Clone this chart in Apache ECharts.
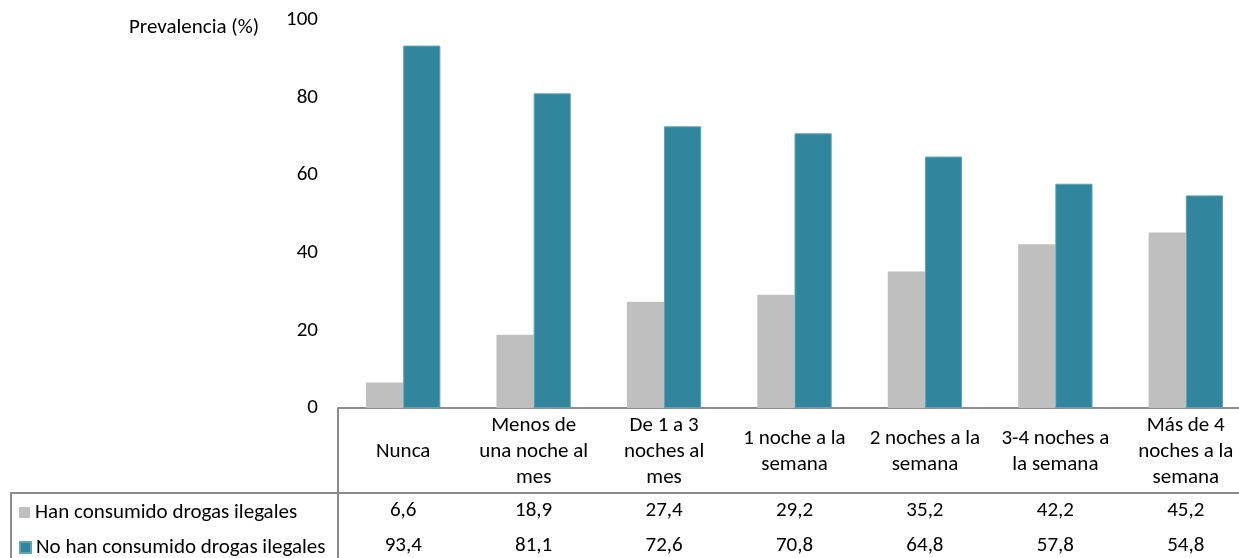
<!DOCTYPE html>
<html>
<head>
<meta charset="utf-8">
<script src="https://cdn.jsdelivr.net/npm/echarts@6/dist/echarts.min.js"></script>
<style>
html,body{margin:0;padding:0;background:#fff;}
#chart{width:1239px;height:558px;}
</style>
</head>
<body>
<div id="chart"></div>
<script>
const categories = [
  "Nunca",
  "Menos de\nuna noche al\nmes",
  "De 1 a 3\nnoches al\nmes",
  "1 noche a la\nsemana",
  "2 noches a la\nsemana",
  "3-4 noches a\nla semana",
  "Más de 4\nnoches a la\nsemana"
];
const seriesNames = ["Han consumido drogas ilegales", "No han consumido drogas ilegales"];
const hanConsumido = [6.6, 18.9, 27.4, 29.2, 35.2, 42.2, 45.2];
const noHanConsumido = [93.4, 81.1, 72.6, 70.8, 64.8, 57.8, 54.8];
const yTicks = [0, 20, 40, 60, 80, 100];
const yAxisTitle = "Prevalencia (%)";

const FONT = "Carlito, Lato, sans-serif";
const FS = 21;
const LINE = "#8c8c8c";
const fmt = v => v.toFixed(1).replace('.', ',');

const chart = echarts.init(document.getElementById('chart'), null, {renderer: 'canvas'});

const valueAxis = (values, margin) => ({
  type: 'category',
  gridIndex: 0,
  position: 'bottom',
  data: values.map(fmt),
  axisLine: {show: false},
  axisTick: {show: false},
  axisLabel: {
    interval: 0, margin: margin, verticalAlign: 'middle',
    fontFamily: FONT, fontSize: FS, color: '#000'
  }
});

const legendItem = (name, top) => ({
  orient: 'vertical',
  left: 14, top: top,
  itemWidth: 11, itemHeight: 11,
  icon: 'rect',
  itemGap: 0,
  textStyle: {fontFamily: FONT, fontSize: FS, color: '#000'},
  data: [name]
});

chart.setOption({
  animation: false,
  backgroundColor: '#fff',
  textStyle: {fontFamily: FONT},
  color: ['#bfbfbf', '#31859c'],
  title: {
    text: yAxisTitle,
    left: 124, top: 12,
    textStyle: {fontFamily: FONT, fontSize: FS, fontWeight: 'normal', color: '#000'}
  },
  legend: [
    legendItem(seriesNames[0], 497),
    legendItem(seriesNames[1], 532)
  ],
  grid: {left: 338, top: 20, bottom: 150, right: -12, containLabel: false, outerBoundsMode: 'none'},
  xAxis: [
    {
      type: 'category',
      data: categories,
      position: 'bottom',
      axisLine: {show: true, lineStyle: {color: LINE, width: 2}},
      axisTick: {show: false},
      axisLabel: {
        interval: 0, margin: 44, verticalAlign: 'middle', align: 'center',
        fontFamily: FONT, fontSize: FS, lineHeight: 26, color: '#000'
      }
    },
    valueAxis(hanConsumido, 103),
    valueAxis(noHanConsumido, 138)
  ],
  yAxis: {
    type: 'value',
    min: yTicks[0], max: yTicks[yTicks.length - 1], interval: 20,
    axisLine: {show: false},
    axisTick: {show: false},
    splitLine: {show: false},
    axisLabel: {margin: 20, fontFamily: FONT, fontSize: FS, color: '#000'}
  },
  series: [
    {
      name: seriesNames[0], type: 'bar', xAxisIndex: 0, data: hanConsumido,
      barGap: '0%', barCategoryGap: '43%',
      itemStyle: {color: '#bfbfbf'}
    },
    {
      name: seriesNames[1], type: 'bar', xAxisIndex: 0, data: noHanConsumido,
      barGap: '0%', barCategoryGap: '43%',
      itemStyle: {color: '#31859c', borderColor: '#5fa3b6', borderWidth: 1}
    }
  ],
  graphic: [
    {type: 'line', shape: {x1: 338, y1: 408, x2: 338, y2: 558}, style: {stroke: LINE, lineWidth: 2}},
    {type: 'line', shape: {x1: 10, y1: 493, x2: 1239, y2: 493}, style: {stroke: LINE, lineWidth: 2}},
    {type: 'line', shape: {x1: 11, y1: 493, x2: 11, y2: 558}, style: {stroke: LINE, lineWidth: 2}}
  ]
});
</script>
</body>
</html>
